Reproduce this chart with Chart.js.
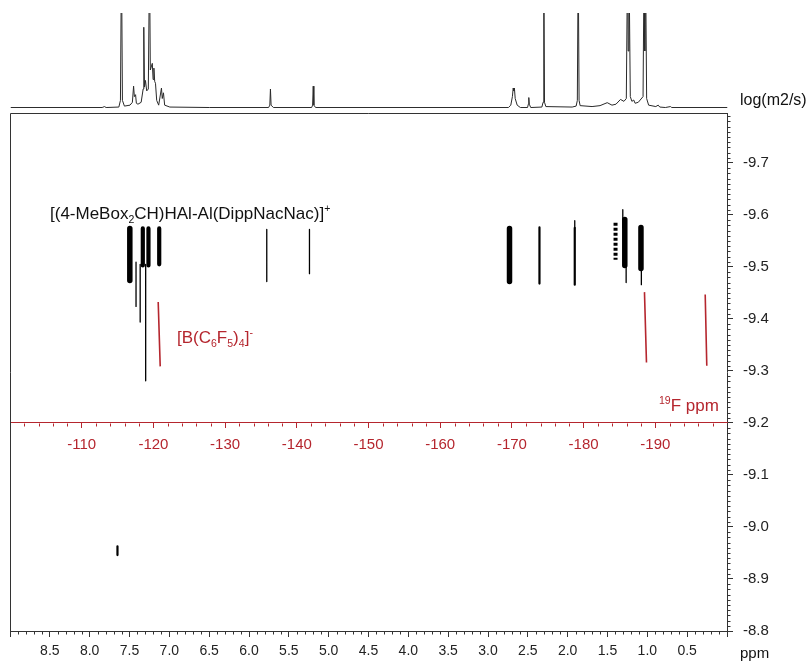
<!DOCTYPE html>
<html><head><meta charset="utf-8">
<script src="https://cdn.jsdelivr.net/npm/chart.js@4.4.1/dist/chart.umd.min.js"></script>
<style>
html,body{margin:0;padding:0;background:#fff;}
#wrap{position:relative;width:809px;height:661px;overflow:hidden;font-family:"Liberation Sans",Arial,Helvetica,sans-serif;}
canvas{position:absolute;left:0;top:0;}
.lbl{position:absolute;white-space:nowrap;line-height:1;color:#111;}
.lbl sub,.lbl sup{font-size:62%;line-height:0;}
.red{color:#b5262e;}
</style></head><body>
<div id="wrap">
<canvas id="main" width="809" height="661" style="width:809px;height:661px"></canvas>
<canvas id="spec" width="809" height="112" style="width:809px;height:112px"></canvas>
<div class="lbl" style="left:50px;top:205px;font-size:17px;">[(4-MeBox<sub>2</sub>CH)HAl-Al(DippNacNac)]<sup>+</sup></div>
<div class="lbl red" style="left:177px;top:329px;font-size:17px;">[B(C<sub>6</sub>F<sub>5</sub>)<sub>4</sub>]<sup>-</sup></div>
<div class="lbl red" style="left:659px;top:397px;font-size:17px;"><sup>19</sup>F ppm</div>
<div class="lbl" style="left:740px;top:92px;font-size:16px;">log(m2/s)</div>
<div class="lbl" style="left:740px;top:645px;font-size:15px;">ppm</div>
</div>
<script>
// ---------- 1H projection trace (ppm, relative intensity) ----------
const specPpm = [9.0,7.85,7.82,7.80,7.64,7.62,7.607,7.595,7.57,7.50,7.47,7.455,7.445,7.43,7.42,7.40,7.36,7.335,7.327,7.318,7.306,7.29,7.27,7.255,7.245,7.22,7.21,7.20,7.19,7.18,7.165,7.14,7.105,7.095,7.08,7.065,7.0,6.5,
  5.76,5.745,5.737,5.729,5.70,5.22,5.208,5.200,5.192,5.17,2.75,2.72,2.70,2.69,2.683,2.675,2.665,2.64,2.60,2.51,2.50,2.494,2.488,2.47,2.33,2.315,2.306,2.297,2.28,
  1.95,1.90,1.885,1.874,1.863,1.85,1.70,1.60,1.51,1.45,1.40,1.343,1.30,1.27,1.255,1.247,1.237,1.22,1.20,1.177,1.16,1.12,1.06,1.047,1.038,1.029,1.015,0.99,0.90,0.87,0.85,0.78,0.716,0.70,0.0];
const specInt = [0.5,0.5,1.5,0.5,1,8,160,8,2,3,6,23,12,14,5,4,6,20,85,22,29,18,20,160,40,47,30,42,28,26,8,3,21,10,16,3,1,0.5,
  0.5,3,20,3,0.5,0.5,3,23,3,0.5,0.5,3,12,21,18,21,10,3,0.5,0.5,4,11,4,0.5,1,6,160,6,1.5,
  1,2,8,160,8,2.5,1.5,2.5,5.6,3,4,9,7,10,160,60,160,12,7,8.4,5,6,12,160,60,160,10,3,1.5,3,1,0.5,1.5,0.5,0.5];

// ---------- DOSY cross peaks: 1H ppm, log D top / bottom ----------
const cationThickPpm = [7.496, 2.730, 1.283, 1.080];
const cationThickTop = [-9.574, -9.574, -9.591, -9.576];
const cationThickBot = [-9.474, -9.472, -9.503, -9.497];

const cationMedPpm = [7.333, 7.262, 7.127];
const cationMedTop = [-9.574, -9.574, -9.574];
const cationMedBot = [-9.503, -9.503, -9.505];

const cationDotPpm = [1.399];
const cationDotTop = [-9.585];
const cationDotBot = [-9.514];

const cationThinPpm = [2.354, 1.911, 7.651];
const cationThinTop = [-9.576, -9.575, -8.963];
const cationThinBot = [-9.468, -9.466, -8.946];

const cationHairPpm = [7.418, 7.366, 7.297, 5.777, 5.241, 1.308, 1.266, 1.911, 1.075];
const cationHairTop = [-9.509, -9.505, -9.505, -9.572, -9.572, -9.610, -9.508, -9.589, -9.500];
const cationHairBot = [-9.424, -9.394, -9.281, -9.472, -9.487, -9.575, -9.470, -9.575, -9.466];

// ---------- 19F cross peaks (anion): 19F ppm and log D at both ends ----------
const anionTopF = [-120.67, -188.49, -196.96];
const anionBotF = [-120.95, -188.77, -197.18];
const anionTopD = [-9.4325, -9.4516, -9.4472];
const anionBotD = [-9.3088, -9.3164, -9.3099];

// ---------- tick labels ----------
const xTickValues = [9.0,8.5,8.0,7.5,7.0,6.5,6.0,5.5,5.0,4.5,4.0,3.5,3.0,2.5,2.0,1.5,1.0,0.5,0.0];
const xTickLabels = ['','8.5','8.0','7.5','7.0','6.5','6.0','5.5','5.0','4.5','4.0','3.5','3.0','2.5','2.0','1.5','1.0','0.5',''];
const yTickValues = [-9.7,-9.6,-9.5,-9.4,-9.3,-9.2,-9.1,-9.0,-8.9,-8.8];
const yTickLabels = ['-9.7','-9.6','-9.5','-9.4','-9.3','-9.2','-9.1','-9.0','-8.9','-8.8'];
const fTickValues = [-100,-110,-120,-130,-140,-150,-160,-170,-180,-190,-200];
const fTickLabels = ['','-110','-120','-130','-140','-150','-160','-170','-180','-190',''];

const RED = '#b5262e';
const AX = '#333333';
const FONT = '"Liberation Sans", Arial, Helvetica, sans-serif';

function segs(ppm, top, bot) {
  const out = [];
  ppm.forEach((p, i) => { out.push({x:p, y:top[i]}, {x:p, y:bot[i]}, {x:p, y:null}); });
  return out;
}
function segs2(xt, xb, yt, yb) {
  const out = [];
  xt.forEach((p, i) => { out.push({x:p, y:yt[i]}, {x:xb[i], y:yb[i]}, {x:xb[i], y:null}); });
  return out;
}
function lineDs(data, w, color, extra) {
  return Object.assign({data, showLine:true, spanGaps:false, borderColor:color, borderWidth:w,
    borderCapStyle:'round', pointRadius:0, fill:false, tension:0, xAxisID:'x', yAxisID:'y'}, extra || {});
}

// ---------- spectrum ----------
new Chart(document.getElementById('spec'), {
  type: 'line',
  data: { datasets: [{ data: specPpm.map((p, i) => ({x:p, y:specInt[i]})), borderColor:'#2a2a2a',
    borderWidth:1, pointRadius:0, tension:0, fill:false }] },
  options: {
    responsive:false, animation:false, events:[],
    layout: { padding: { left:10.5, right:81.5, top:13, bottom:4 } },
    plugins: { legend:{display:false}, tooltip:{enabled:false} },
    scales: {
      x: { type:'linear', min:0, max:9, reverse:true, display:false },
      y: { type:'linear', min:0, max:100, display:false }
    }
  }
});

// ---------- frame & minor ticks ----------
const framePlugin = {
  id: 'frame',
  afterDraw(chart) {
    const ctx = chart.ctx, a = chart.chartArea;
    const sx = chart.scales.x, sy = chart.scales.y, sf = chart.scales.xF;
    ctx.save();
    ctx.lineWidth = 1;
    ctx.strokeStyle = AX;
    ctx.beginPath();
    const L = Math.round(a.left) + 0.5, T = Math.round(a.top) + 0.5;
    ctx.moveTo(L, Math.round(a.bottom)); ctx.lineTo(L, T); ctx.lineTo(Math.round(a.right), T);
    const B = Math.round(a.bottom) + 0.5;
    for (let k = 0; k <= 90; k++) {
      if (k % 5 === 0) continue;
      const px = Math.round(sx.getPixelForValue(k / 10)) + 0.5;
      ctx.moveTo(px, B); ctx.lineTo(px, B + 3);
    }
    const R = Math.round(a.right) + 0.5;
    for (let k = 880; k <= 979; k++) {
      if (k % 10 === 0) continue;
      const py = Math.round(sy.getPixelForValue(-k / 100)) + 0.5;
      ctx.moveTo(R, py); ctx.lineTo(R + 3, py);
    }
    ctx.stroke();
    ctx.strokeStyle = RED;
    ctx.beginPath();
    const FY = Math.round(sy.getPixelForValue(-9.2)) + 0.5;
    for (let v = -200; v <= -100; v += 2) {
      if (v % 10 === 0) continue;
      const px = Math.round(sf.getPixelForValue(v)) + 0.5;
      ctx.moveTo(px, FY); ctx.lineTo(px, FY + 3);
    }
    ctx.stroke();
    ctx.restore();
  }
};

new Chart(document.getElementById('main'), {
  type: 'scatter',
  data: { datasets: [
    lineDs(segs(cationThickPpm, cationThickTop, cationThickBot), 5.5, '#000'),
    lineDs(segs(cationMedPpm, cationMedTop, cationMedBot), 4.2, '#000'),
    lineDs(segs(cationDotPpm, cationDotTop, cationDotBot), 4, '#000', {borderDash:[3,2], borderCapStyle:'butt'}),
    lineDs(segs(cationThinPpm, cationThinTop, cationThinBot), 2.2, '#000'),
    lineDs(segs(cationHairPpm, cationHairTop, cationHairBot), 1.3, '#000'),
    lineDs(segs2(anionTopF, anionBotF, anionTopD, anionBotD), 1.6, RED, {xAxisID:'xF', borderCapStyle:'butt'})
  ] },
  options: {
    responsive:false, animation:false, events:[],
    layout: { padding: { left:10, top:113, right:0, bottom:0 } },
    plugins: { legend:{display:false}, tooltip:{enabled:false} },
    scales: {
      x: {
        type:'linear', min:0, max:9, reverse:true, position:'bottom',
        border: { display:true, color:AX, width:1 },
        grid: { display:true, drawOnChartArea:false, drawTicks:true, tickLength:6, color:AX },
        ticks: { autoSkip:false, maxRotation:0, padding:6, color:'#222', font:{size:14, family:FONT},
          callback: (v, i) => xTickLabels[i] },
        afterBuildTicks: s => { s.ticks = xTickValues.map(v => ({value:v})); },
        afterFit: s => { s.height = 30; }
      },
      y: {
        type:'linear', min:-9.796, max:-8.8, reverse:true, position:'right',
        border: { display:true, color:AX, width:1 },
        grid: { display:true, drawOnChartArea:false, drawTicks:true, tickLength:6, color:AX },
        ticks: { autoSkip:false, padding:10, color:'#222', font:{size:15, family:FONT},
          callback: (v, i) => yTickLabels[i] },
        afterBuildTicks: s => { s.ticks = yTickValues.map(v => ({value:v})); },
        afterFit: s => { s.width = 82; }
      },
      xF: {
        type:'linear', axis:'x', min:-200, max:-100, reverse:true, position:{ y:-9.2 },
        border: { display:true, color:RED, width:1 },
        grid: { display:true, drawOnChartArea:false, drawTicks:true, tickLength:5, color:RED },
        ticks: { autoSkip:false, maxRotation:0, padding:8, color:RED, font:{size:15, family:FONT},
          callback: (v, i) => fTickLabels[i] },
        afterBuildTicks: s => { s.ticks = fTickValues.map(v => ({value:v})); }
      }
    }
  },
  plugins: [framePlugin]
});
</script>
</body></html>
